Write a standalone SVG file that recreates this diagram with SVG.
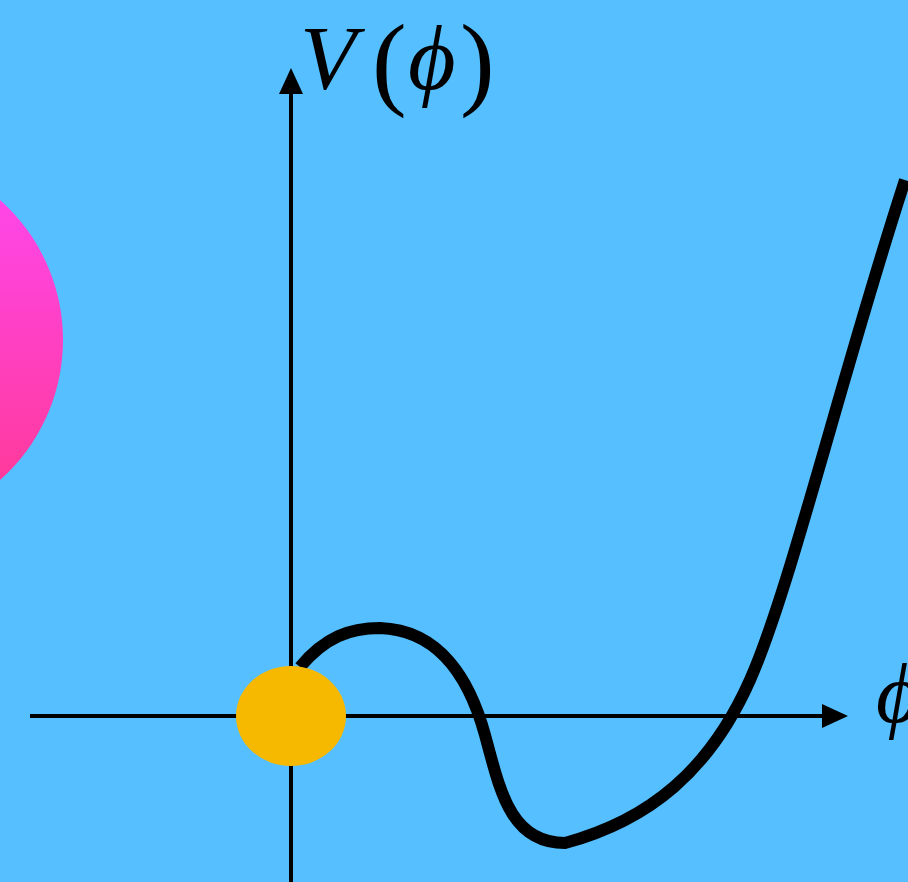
<svg xmlns="http://www.w3.org/2000/svg" width="908" height="882" viewBox="0 0 908 882">
<defs>
<linearGradient id="pink" x1="0" y1="0" x2="0" y2="1">
<stop offset="0" stop-color="#ff48f4"/>
<stop offset="1" stop-color="#ff3890"/>
</linearGradient>
<marker id="arr" viewBox="0 0 26 24" refX="2" refY="12" markerWidth="26" markerHeight="24" orient="auto" markerUnits="userSpaceOnUse">
<path d="M0,0 L26,12 L0,24 Z" fill="#000"/>
</marker>
</defs>
<style>
.axis{stroke:#000;stroke-width:4;fill:none}
.lbl{font-family:"Liberation Serif","DejaVu Serif",serif;font-style:italic;fill:#000}
.par{font-family:"Liberation Serif","DejaVu Serif",serif;font-style:normal;fill:#000}
</style>
<rect width="908" height="882" fill="#55bfff"/>
<circle id="pink-ball" cx="-124" cy="340" r="187" fill="url(#pink)"/>
<g id="connectors">
<line class="axis" x1="291" y1="882" x2="291" y2="92" marker-end="url(#arr)"/>
<line class="axis" x1="30" y1="716" x2="824" y2="716" marker-end="url(#arr)"/>
</g>
<g id="curve">
<path d="M300,667 C325,637 350,628 380,628 C440,630 470,680 485,735 C500,790 510,843 565,843 C650,820 710,770 750,680 C790,590 840,380 905,180" fill="none" stroke="#000" stroke-width="12" stroke-linejoin="round"/>
</g>
<g id="ball">
<ellipse cx="291" cy="716" rx="55" ry="50" fill="#f7b900"/>
</g>
<g id="label-v">
<text class="lbl" x="300" y="89" font-size="92">V</text>
<text class="par" x="372" y="96" font-size="104">(</text>
<text class="lbl" x="408" y="89" font-size="92">ϕ</text>
<text class="par" x="460" y="96" font-size="104">)</text>
</g>
<g id="label-phi">
<text class="lbl" x="876" y="722" font-size="84">ϕ</text>
</g>
</svg>
